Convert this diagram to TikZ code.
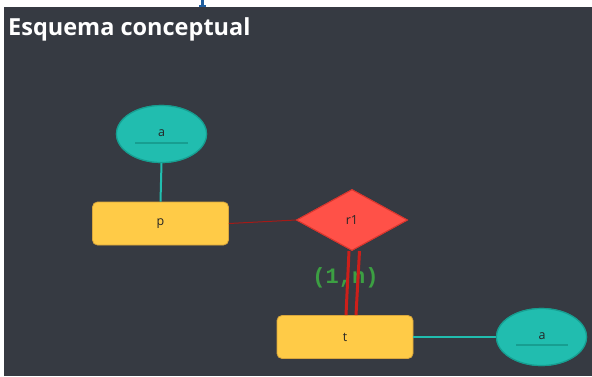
\documentclass[tikz,border=0pt]{standalone}
\usepackage{fontspec}
\setmainfont{Open Sans}
\newfontfamily\monofont{Liberation Mono}
\usetikzlibrary{shapes.geometric}
\definecolor{bgdark}{HTML}{363A42}
\definecolor{tealfill}{HTML}{21BDAF}
\definecolor{tealline}{HTML}{179E91}
\definecolor{yelfill}{HTML}{FFCB47}
\definecolor{yelline}{HTML}{D9A63C}
\definecolor{redfill}{HTML}{FF5148}
\definecolor{redline}{HTML}{D8362E}
\definecolor{darkred}{HTML}{A51A17}
\definecolor{dblred}{HTML}{CC1F1A}
\definecolor{lblgreen}{HTML}{3C9F42}
\definecolor{txtdark}{HTML}{262626}
\definecolor{topblue}{HTML}{1F5E9E}
\tikzset{
  attrnode/.style={ellipse, draw=tealline, line width=1.2pt, fill=tealfill,
    minimum width=90pt, minimum height=57pt, inner sep=0pt,
    font=\fontsize{12}{14}\selectfont, text=txtdark},
  entnode/.style={rectangle, rounded corners=5pt, draw=yelline, line width=0.8pt, fill=yelfill,
    minimum width=136pt, minimum height=43pt, inner sep=0pt,
    font=\fontsize{12.5}{14}\selectfont, text=txtdark},
  relnode/.style={diamond, draw=redline, line width=1pt, fill=redfill, aspect=1.806,
    minimum width=111pt, minimum height=61pt, inner sep=0pt,
    font=\fontsize{12.5}{14}\selectfont, text=txtdark},
  tealconn/.style={draw=tealfill, line width=2pt},
  thinred/.style={draw=darkred, line width=1pt},
  dblconn/.style={draw=dblred, line width=3pt},
  keyline/.style={draw=tealline, line width=1.6pt},
}
\begin{document}
\begin{tikzpicture}[x=1pt,y=-1pt]
\useasboundingbox (0,0) rectangle (592,376);
\fill[white] (0,0) rectangle (592,376);
\fill[bgdark] (4,7) rectangle (592,376);
\fill[topblue] (201,0) rectangle (203.5,5);
\fill[topblue] (199,4.5) rectangle (206,7);
\node[anchor=base west, text=white, font=\fontsize{23.5}{27}\selectfont\bfseries, inner sep=0pt] (title) at (8,35) {Esquema conceptual};

% nodes
\node[attrnode] (a1) at (161.5,134) {};
\node[entnode] (p) at (160.5,223.5) {p};
\node[relnode] (r1) at (352,220) {};
\node[entnode] (t) at (345,337) {t};
\node[attrnode] (a2) at (541.5,337) {};

% connectors
\draw[tealconn] (a1.south) -- (p.north);
\draw[thinred] (p.east) -- (r1.west);
\draw[tealconn] (t.east) -- (a2.west);

% label
\node[text=lblgreen, font=\fontsize{22}{24}\monofont\bfseries, inner sep=0pt] (card) at (345.5,278) {(1,n)};

\draw[dblconn] ([xshift=-3pt]r1.south) -- ([xshift=1pt]t.north);
\draw[dblconn] ([xshift=7.5pt]r1.south) -- ([xshift=11pt]t.north);

% redraw nodes on top
\node[relnode] (r1b) at (352,220) {r1};
\node[attrnode] (a1b) at (161.5,134) {};
\node[attrnode] (a2b) at (541.5,337) {};
\node[font=\fontsize{12.5}{14}\selectfont, text=txtdark, inner sep=0pt] (a1t) at (161.5,133) {a};
\node[font=\fontsize{12.5}{14}\selectfont, text=txtdark, inner sep=0pt] (a2t) at (542,336) {a};
\coordinate (k1l) at (135,143);
\coordinate (k1r) at (188,143);
\coordinate (k2l) at (516,345);
\coordinate (k2r) at (568,345);
\draw[keyline] (k1l) -- (k1r);
\draw[keyline] (k2l) -- (k2r);
\end{tikzpicture}
\end{document}
